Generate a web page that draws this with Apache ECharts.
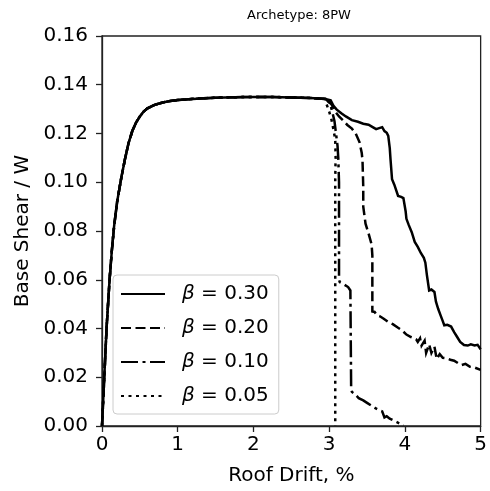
<!DOCTYPE html>
<html>
<head>
<meta charset="utf-8">
<script src="https://cdn.jsdelivr.net/npm/echarts@6/dist/echarts.min.js"></script>
<style>
html,body{margin:0;padding:0;background:#fff;}
#c{width:490px;height:491px;}
</style>
</head>
<body>
<div id="c"></div>
<script>
// ---- data ----
const titleText = 'Archetype: 8PW';
const xTicks = [0, 1, 2, 3, 4, 5];
const yTicks = [0.00, 0.02, 0.04, 0.06, 0.08, 0.10, 0.12, 0.14, 0.16];
const betaLabels = ['0.30', '0.20', '0.10', '0.05'];

// shared pushover backbone
const backboneX = [0, 0.03, 0.06, 0.10, 0.13, 0.16, 0.20, 0.25, 0.30, 0.35, 0.40, 0.45, 0.50, 0.55, 0.60, 0.70, 0.80, 0.90, 1.00, 1.25, 1.50, 1.75, 2.00, 2.25, 2.50, 2.75, 2.95];
const backboneY = [0, 0.020, 0.040, 0.060, 0.072, 0.082, 0.092, 0.101, 0.109, 0.116, 0.121, 0.1245, 0.127, 0.129, 0.1303, 0.1318, 0.1327, 0.1333, 0.1337, 0.1343, 0.1347, 0.1349, 0.1350, 0.1350, 0.1348, 0.1346, 0.1342];

// softening tails
const b30X = [3.02, 3.06, 3.10, 3.16, 3.22, 3.30, 3.38, 3.45, 3.52, 3.58, 3.62, 3.66, 3.70, 3.73, 3.76, 3.78, 3.80, 3.81, 3.83, 3.86, 3.88, 3.91, 3.95, 3.98, 4.00, 4.01, 4.02, 4.05, 4.09, 4.13, 4.17, 4.21, 4.25, 4.27, 4.29, 4.32, 4.35, 4.39, 4.41, 4.44, 4.47, 4.50, 4.52, 4.56, 4.61, 4.65, 4.69, 4.73, 4.78, 4.83, 4.87, 4.92, 4.96, 5.00];
const b30Y = [0.1336, 0.1312, 0.1298, 0.1283, 0.1270, 0.1255, 0.1248, 0.1240, 0.1236, 0.1225, 0.1218, 0.1222, 0.1226, 0.1210, 0.1203, 0.1190, 0.1140, 0.1094, 0.1012, 0.0990, 0.0985, 0.0944, 0.0940, 0.0935, 0.0930, 0.0880, 0.0850, 0.0825, 0.0795, 0.0755, 0.0735, 0.0710, 0.0690, 0.0670, 0.0620, 0.0556, 0.0560, 0.0550, 0.0510, 0.0480, 0.0455, 0.0430, 0.0413, 0.0415, 0.0408, 0.0385, 0.0365, 0.0345, 0.0332, 0.0330, 0.0335, 0.0330, 0.0333, 0.0315];

const b20X = [3.03, 3.08, 3.13, 3.18, 3.24, 3.30, 3.35, 3.40, 3.43, 3.44, 3.45, 3.45, 3.48, 3.52, 3.56, 3.57, 3.57, 3.60, 3.63, 3.67, 3.72, 3.78, 3.84, 3.90, 3.96, 4.02, 4.08, 4.12, 4.15, 4.17, 4.20, 4.22, 4.26, 4.28, 4.32, 4.35, 4.39, 4.42, 4.46, 4.50, 4.55, 4.60, 4.65, 4.70, 4.75, 4.80, 4.86, 4.92, 5.00];
const b20Y = [0.1320, 0.1290, 0.1270, 0.1255, 0.1235, 0.1220, 0.1200, 0.1165, 0.1120, 0.1090, 0.0980, 0.0900, 0.0830, 0.0790, 0.0745, 0.0700, 0.0470, 0.0468, 0.0455, 0.0450, 0.0440, 0.0427, 0.0418, 0.0405, 0.0393, 0.0375, 0.0365, 0.0360, 0.0355, 0.0345, 0.0360, 0.0330, 0.0350, 0.0300, 0.0335, 0.0300, 0.0325, 0.0275, 0.0295, 0.0280, 0.0278, 0.0272, 0.0268, 0.0258, 0.0250, 0.0255, 0.0243, 0.0240, 0.0230];

const b10X = [3.01, 3.04, 3.07, 3.09, 3.11, 3.12, 3.13, 3.13, 3.13, 3.14, 3.20, 3.25, 3.28, 3.29, 3.30, 3.35, 3.39, 3.45, 3.50, 3.55, 3.61, 3.66, 3.70, 3.73, 3.76, 3.80, 3.90, 3.98];
const b10Y = [0.1325, 0.1290, 0.1250, 0.1200, 0.1150, 0.1100, 0.1000, 0.0700, 0.0600, 0.0590, 0.0580, 0.0570, 0.0556, 0.0155, 0.0140, 0.0128, 0.0114, 0.0105, 0.0095, 0.0085, 0.0073, 0.0065, 0.0060, 0.0035, 0.0040, 0.0030, 0.0015, 0.0003];

const b05X = [2.96, 3.00, 3.03, 3.06, 3.08, 3.085, 3.08, 3.08];
const b05Y = [0.1325, 0.1290, 0.1257, 0.1210, 0.1176, 0.1100, 0.1012, 0.0000];

// ---- build ----
function pairs(xs, ys) { return xs.map((x, i) => [x, ys[i]]); }
const backbone = pairs(backboneX, backboneY);
const tails = [pairs(b30X, b30Y), pairs(b20X, b20Y), pairs(b10X, b10Y), pairs(b05X, b05Y)];
const dashes = ['solid', [10, 4.5], [17, 4.5, 3, 4.5], [3, 4.5]];

const FONT = 'DejaVu Sans';
const chart = echarts.init(document.getElementById('c'), null, { renderer: 'canvas' });

const series = betaLabels.map((b, i) => ({
  name: 'β = ' + b,
  type: 'line',
  data: backbone.concat(tails[i]),
  showSymbol: false,
  symbol: 'none',
  smooth: false,
  clip: true,
  z: 10 - i,
  lineStyle: { color: '#000', width: 2.5, type: dashes[i], cap: 'butt', join: 'miter' },
  itemStyle: { color: '#000' },
  emphasis: { disabled: true }
}));

chart.setOption({
  animation: false,
  backgroundColor: '#fff',
  title: {
    text: titleText,
    left: 294, top: 4, textAlign: 'center',
    textStyle: { fontFamily: FONT, fontSize: 13, fontWeight: 'normal', color: '#000' }
  },
  grid: {
    left: 102, top: 36, width: 385, height: 392,
    show: true, borderColor: '#222', borderWidth: 1.3, backgroundColor: 'transparent'
  },
  xAxis: {
    type: 'value', min: 0, max: 5, interval: 1,
    name: 'Roof Drift, %', nameLocation: 'middle', nameGap: 40,
    nameTextStyle: { fontFamily: FONT, fontSize: 20, color: '#000', verticalAlign: 'top' },
    axisLine: { show: true, onZero: false, lineStyle: { color: '#222', width: 1.3 } },
    axisTick: { show: true, inside: false, length: 6, lineStyle: { color: '#222', width: 1.3 } },
    axisLabel: { fontFamily: FONT, fontSize: 20, color: '#000', margin: 9,
      formatter: v => xTicks.includes(v) ? String(v) : '' },
    splitLine: { show: false }
  },
  yAxis: {
    type: 'value', min: 0, max: 0.16, interval: 0.02,
    name: 'Base Shear / W', nameLocation: 'middle', nameGap: 68, nameRotate: 90,
    nameTextStyle: { fontFamily: FONT, fontSize: 20, color: '#000' },
    axisLine: { show: true, onZero: false, lineStyle: { color: '#222', width: 1.3 } },
    axisTick: { show: true, inside: false, length: 6, lineStyle: { color: '#222', width: 1.3 } },
    axisLabel: { fontFamily: FONT, fontSize: 20, color: '#000', margin: 14,
      formatter: v => {
        const t = yTicks.find(k => Math.abs(k - v) < 1e-9);
        return t === undefined ? '' : t.toFixed(2);
      } },
    splitLine: { show: false }
  },
  legend: {
    orient: 'vertical',
    left: 113, top: 275,
    itemWidth: 44, itemHeight: 20, itemGap: 14,
    padding: [9, 10, 8, 7],
    backgroundColor: 'rgba(255,255,255,0.8)',
    borderColor: '#cccccc', borderWidth: 1, borderRadius: 4,
    selectedMode: false,
    itemStyle: { opacity: 0, borderWidth: 0 },
    data: betaLabels.map(b => ({ name: 'β = ' + b })),
    formatter: name => '{i|β}{n| = ' + name.split('= ')[1] + '}',
    textStyle: {
      fontFamily: FONT, fontSize: 20, color: '#000', padding: [0, 0, 0, 12],
      rich: {
        i: { fontFamily: FONT, fontSize: 20, fontStyle: 'italic', color: '#000' },
        n: { fontFamily: FONT, fontSize: 20, color: '#000' }
      }
    }
  },
  series: series
});
</script>
</body>
</html>
